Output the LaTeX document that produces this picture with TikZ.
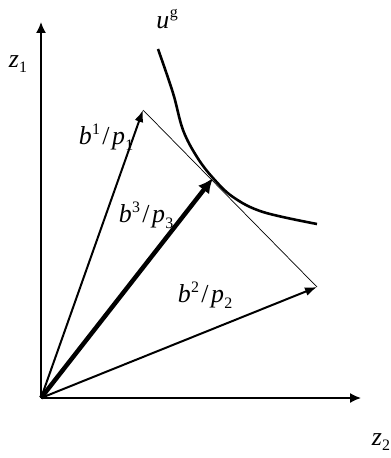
\documentclass[tikz,border=0pt]{standalone}
\usepackage{fontspec}
\setmainfont{Liberation Serif}
\usetikzlibrary{arrows.meta}
\tikzset{
  lbl/.style={font=\fontsize{26}{26}\selectfont\itshape, inner sep=0pt},
  axis/.style={line width=1.6pt, -{Latex[length=11bp,width=10bp]}},
  vec/.style={line width=2pt, -{Latex[length=12bp,width=9bp]}},
  bigvec/.style={line width=4.5pt, -{Latex[length=15bp,width=14bp]}},
  thin/.style={line width=0.7pt},
  curve/.style={line width=2.6pt}
}
\newcommand{\supx}[1]{\kern0.02em\raisebox{0.42em}{\fontsize{16}{16}\selectfont\upshape #1}}
\newcommand{\subx}[1]{\kern0.01em\raisebox{-0.2em}{\fontsize{16}{16}\selectfont\upshape #1}}
\newcommand{\fr}[4]{#1\supx{#2}\kern0.08em\upshape/\kern0.1em\itshape#3\subx{#4}}
\begin{document}
\begin{tikzpicture}[x=1bp,y=-1bp]
\useasboundingbox (0,0) rectangle (390,458);
\coordinate (O) at (41,398);
\coordinate (Y) at (41,22);
\coordinate (X) at (361,398);
\coordinate (B1) at (143,110);
\coordinate (B2) at (317,287);
\coordinate (B3) at (213,178);
\draw[axis] (O) -- (Y);
\draw[axis] (O) -- (X);
\draw[thin] (B1) -- (B2);
\draw[vec] (O) -- (B1);
\draw[vec] (O) -- (B2);
\draw[bigvec] (O) -- (B3);
\draw[curve] plot[smooth, tension=0.6] coordinates {(158,49) (173,93) (183,130) (197,157) (213,178) (233,197) (263,212) (317,224)};
\node[lbl] (z1) at (18,64) {z\subx{1}};
\node[lbl] (z2) at (381,442) {z\subx{2}};
\node[lbl] (ug) at (167,19) {u\supx{g}};
\node[lbl] (l1) at (106,137) {\fr{b}{1}{p}{1}};
\node[lbl] (l3) at (146,215) {\fr{b}{3}{p}{3}};
\node[lbl] (l2) at (205,295) {\fr{b}{2}{p}{2}};
\end{tikzpicture}
\end{document}
